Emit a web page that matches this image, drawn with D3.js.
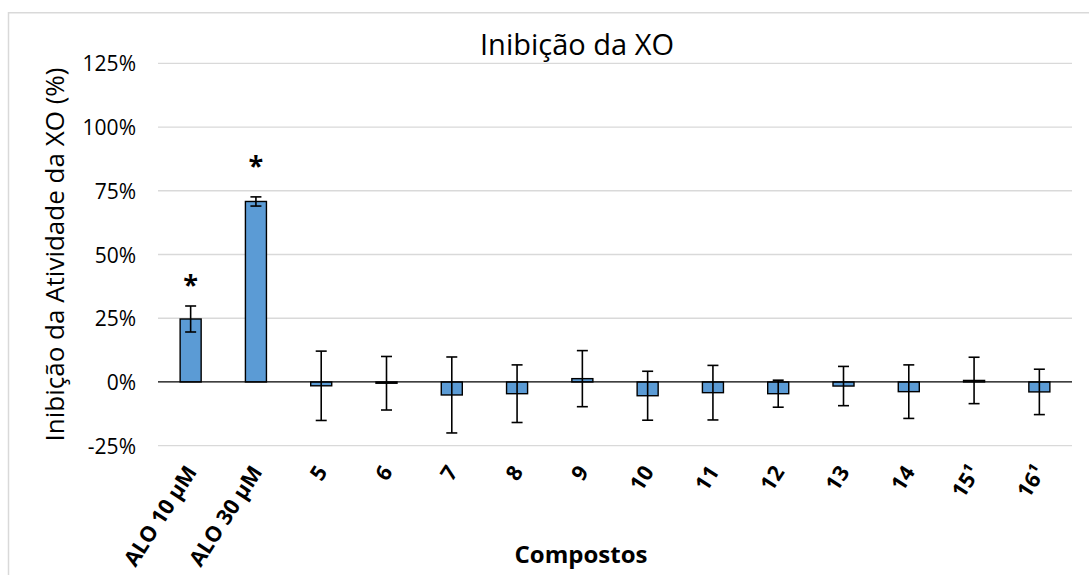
<!DOCTYPE html>
<html>
<head>
<meta charset="utf-8">
<script src="https://cdn.jsdelivr.net/npm/d3@7"></script>
<style>
  html, body { margin: 0; padding: 0; background: #fff; }
  svg { display: block; }
  text { font-family: "Open Sans", sans-serif; fill: #000; }
</style>
</head>
<body>
<div id="chart"></div>
<script>
// ---- data ----
const categories = ["ALO 10 µM", "ALO 30 µM", "5", "6", "7", "8", "9", "10", "11", "12", "13", "14", "15¹", "16¹"];
const values = [24.7, 70.8, -1.5, -0.5, -5.1, -4.6, 1.3, -5.4, -4.2, -4.6, -1.6, -3.8, 0.6, -3.9];
const errors = [5.1, 1.8, 13.6, 10.5, 14.9, 11.3, 11.0, 9.6, 10.7, 5.3, 7.7, 10.5, 9.1, 8.9];
const yTicks = [-25, 0, 25, 50, 75, 100, 125];
const starCategories = ["ALO 10 µM", "ALO 30 µM"];
const starLevels = [40.1, 86.5];
const title = "Inibição da XO";
const yTitle = "Inibição da Atividade da XO (%)";
const xTitle = "Compostos";

// ---- layout ----
const W = 1089, H = 575;
const plot = { left: 158, right: 1072, top: 63.3, bottom: 445.7 };

const svg = d3.select("#chart").append("svg").attr("width", W).attr("height", H);

// outer chart border (cropped at right & bottom)
svg.append("path")
  .attr("d", `M8.5,${H + 5} L8.5,12.8 L${W + 5},12.8`)
  .attr("fill", "none").attr("stroke", "#d9d9d9").attr("stroke-width", 1.5);

const x = d3.scaleBand().domain(categories).range([plot.left, plot.right])
  .paddingInner(0.678).paddingOuter(0.339);
const y = d3.scaleLinear().domain([-25, 125]).range([plot.bottom, plot.top]);

// gridlines
svg.append("g").selectAll("line").data(yTicks.filter(t => t !== 0)).join("line")
  .attr("x1", plot.left).attr("x2", plot.right)
  .attr("y1", d => y(d)).attr("y2", d => y(d))
  .attr("stroke", "#d9d9d9").attr("stroke-width", 1.3);

// y axis tick labels
const yAxis = d3.axisLeft(y).tickValues(yTicks).tickFormat(d => d + "%").tickSize(0).tickPadding(0);
const yg = svg.append("g").attr("transform", `translate(136,0)`).call(yAxis);
yg.select(".domain").remove();
yg.selectAll("text").attr("font-family", "Open Sans, sans-serif").attr("font-size", 21)
  .attr("fill", "#000").attr("dy", "0.36em");

// bars
svg.append("g").selectAll("rect").data(values).join("rect")
  .attr("x", (d, i) => x(categories[i]))
  .attr("width", x.bandwidth())
  .attr("y", d => y(Math.max(0, d)))
  .attr("height", d => Math.abs(y(d) - y(0)))
  .attr("fill", "#5b9bd5").attr("stroke", "#000").attr("stroke-width", 1.4);

// zero axis line
svg.append("line")
  .attr("x1", plot.left).attr("x2", plot.right)
  .attr("y1", y(0)).attr("y2", y(0))
  .attr("stroke", "#000").attr("stroke-width", 1.3);

// error bars
const eg = svg.append("g").attr("stroke", "#000").attr("stroke-width", 1.6);
values.forEach((v, i) => {
  const cx = x(categories[i]) + x.bandwidth() / 2;
  const y1 = y(v + errors[i]), y2 = y(v - errors[i]);
  eg.append("line").attr("x1", cx).attr("x2", cx).attr("y1", y1).attr("y2", y2);
  eg.append("line").attr("x1", cx - 5.5).attr("x2", cx + 5.5).attr("y1", y1).attr("y2", y1);
  eg.append("line").attr("x1", cx - 5.5).attr("x2", cx + 5.5).attr("y1", y2).attr("y2", y2);
});

// significance stars
svg.append("g").selectAll("text").data(starLevels).join("text")
  .attr("x", (d, i) => x(starCategories[i]) + x.bandwidth() / 2)
  .attr("y", d => y(d) + 14)
  .attr("text-anchor", "middle").attr("font-size", 27).attr("font-weight", "bold")
  .text("*");

// x axis tick labels (rotated)
const xAxis = d3.axisBottom(x).tickSize(0).tickPadding(0);
const xg = svg.append("g").attr("transform", `translate(0,0)`).call(xAxis);
xg.select(".domain").remove();
xg.selectAll(".tick text")
  .attr("font-family", "Open Sans, sans-serif").attr("font-size", 21.5).attr("font-weight", "bold")
  .attr("fill", "#000")
  .attr("text-anchor", "end")
  .attr("y", 0).attr("dy", 0)
  .attr("transform", "translate(7,472) rotate(-57)");

// titles
svg.append("text").attr("x", 577).attr("y", 55).attr("text-anchor", "middle")
  .attr("font-size", 29).text(title);

svg.append("text").attr("transform", `translate(63.5,${(plot.top + plot.bottom) / 2}) rotate(-90)`)
  .attr("text-anchor", "middle").attr("font-size", 26).text(yTitle);

svg.append("text").attr("x", 581).attr("y", 563).attr("text-anchor", "middle")
  .attr("font-size", 24).attr("font-weight", "bold").text(xTitle);
</script>
</body>
</html>
